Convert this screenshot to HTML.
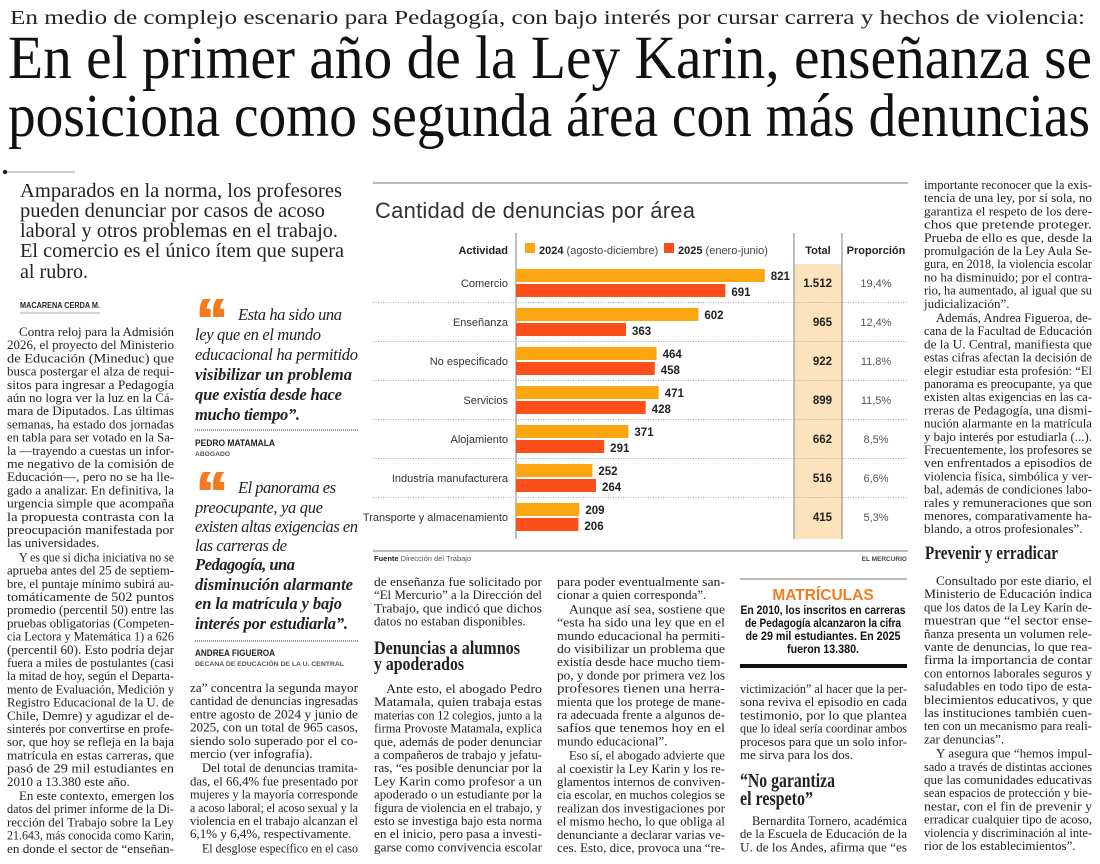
<!DOCTYPE html>
<html lang="es">
<head>
<meta charset="utf-8">
<title>En el primer año de la Ley Karin</title>
<style>
html,body{margin:0;padding:0;background:#fff;}
svg{display:block;}
.body{font-family:"Liberation Serif",serif;font-size:13px;fill:#222;}
.sans{font-family:"Liberation Sans",sans-serif;}
.serif{font-family:"Liberation Serif",serif;}
</style>
</head>
<body>
<svg id="page" xmlns="http://www.w3.org/2000/svg" width="1100" height="864" viewBox="0 0 1100 864">
<rect x="0" y="0" width="1100" height="864" fill="#fff"/>

<g>
<text class="serif" x="10" y="24" font-size="20" fill="#222" textLength="1075" lengthAdjust="spacingAndGlyphs">En medio de complejo escenario para Pedagogía, con bajo interés por cursar carrera y hechos de violencia:</text>
<text class="serif" x="8" y="78" font-size="61" fill="#111" textLength="1084" lengthAdjust="spacingAndGlyphs">En el primer año de la Ley Karin, enseñanza se</text>
<text class="serif" x="8" y="136" font-size="61" fill="#111" textLength="1082" lengthAdjust="spacingAndGlyphs">posiciona como segunda área con más denuncias</text>
</g>

<g>
<line x1="5" y1="172" x2="75" y2="172" stroke="#999" stroke-width="1"/>
<circle cx="5" cy="172" r="2.2" fill="#222"/>
<text class="serif" x="20" y="197" font-size="19.5" fill="#222" textLength="322" lengthAdjust="spacingAndGlyphs">Amparados en la norma, los profesores</text>
<text class="serif" x="20" y="217" font-size="19.5" fill="#222" textLength="305" lengthAdjust="spacingAndGlyphs">pueden denunciar por casos de acoso</text>
<text class="serif" x="20" y="237" font-size="19.5" fill="#222" textLength="318" lengthAdjust="spacingAndGlyphs">laboral y otros problemas en el trabajo.</text>
<text class="serif" x="20" y="257" font-size="19.5" fill="#222" textLength="324" lengthAdjust="spacingAndGlyphs">El comercio es el único ítem que supera</text>
<text class="serif" x="20" y="278" font-size="19.5" fill="#222" textLength="68" lengthAdjust="spacingAndGlyphs">al rubro.</text>
<text class="sans" x="20" y="308" font-size="8" font-weight="bold" fill="#222" textLength="80" lengthAdjust="spacingAndGlyphs">MACARENA CERDA M.</text>
<line x1="20" y1="313" x2="100" y2="313" stroke="#aaa" stroke-width="1"/>
</g>

<g>
<text class="sans" x="195" y="343" font-size="64" font-weight="bold" fill="#f47a20">“</text>
<text class="sans" x="197" y="343" font-size="64" font-weight="bold" fill="#f47a20">“</text>
<text class="serif" x="238" y="320" font-size="16.5" font-style="italic" fill="#222" textLength="104">Esta ha sido una</text>
<text class="serif" x="195" y="340" font-size="16.5" font-style="italic" fill="#222" textLength="126">ley que en el mundo</text>
<text class="serif" x="195" y="360" font-size="16.5" font-style="italic" fill="#222" textLength="163">educacional ha permitido</text>
<text class="serif" x="195" y="380" font-size="16.5" font-style="italic" font-weight="bold" fill="#222" textLength="157">visibilizar un problema</text>
<text class="serif" x="195" y="400" font-size="16.5" font-style="italic" font-weight="bold" fill="#222" textLength="147">que existía desde hace</text>
<text class="serif" x="195" y="420" font-size="16.5" font-style="italic" font-weight="bold" fill="#222" textLength="105">mucho tiempo”.</text>
<line x1="195" y1="430" x2="358" y2="430" stroke="#555" stroke-width="1.2" stroke-dasharray="1,1"/>
<text class="sans" x="195" y="446" font-size="9" font-weight="bold" fill="#222" textLength="80" lengthAdjust="spacingAndGlyphs">PEDRO MATAMALA</text>
<text class="sans" x="195" y="456" font-size="6.5" font-weight="bold" fill="#555" textLength="35" lengthAdjust="spacingAndGlyphs">ABOGADO</text>
</g>

<g>
<text class="sans" x="195" y="516" font-size="64" font-weight="bold" fill="#f47a20">“</text>
<text class="sans" x="197" y="516" font-size="64" font-weight="bold" fill="#f47a20">“</text>
<text class="serif" x="238" y="493" font-size="16.5" font-style="italic" fill="#222" textLength="98">El panorama es</text>
<text class="serif" x="195" y="513" font-size="16.5" font-style="italic" fill="#222" textLength="128">preocupante, ya que</text>
<text class="serif" x="195" y="532" font-size="16.5" font-style="italic" fill="#222" textLength="163">existen altas exigencias en</text>
<text class="serif" x="195" y="551" font-size="16.5" font-style="italic" fill="#222" textLength="92">las carreras de</text>
<text class="serif" x="195" y="570" font-size="16.5" font-style="italic" font-weight="bold" fill="#222" textLength="100">Pedagogía, una</text>
<text class="serif" x="195" y="590" font-size="16.5" font-style="italic" font-weight="bold" fill="#222" textLength="158">disminución alarmante</text>
<text class="serif" x="195" y="609" font-size="16.5" font-style="italic" font-weight="bold" fill="#222" textLength="147">en la matrícula y bajo</text>
<text class="serif" x="195" y="629" font-size="16.5" font-style="italic" font-weight="bold" fill="#222" textLength="153">interés por estudiarla”.</text>
<line x1="195" y1="641" x2="358" y2="641" stroke="#555" stroke-width="1.2" stroke-dasharray="1,1"/>
<text class="sans" x="195" y="656" font-size="9" font-weight="bold" fill="#222" textLength="80" lengthAdjust="spacingAndGlyphs">ANDREA FIGUEROA</text>
<text class="sans" x="195" y="666" font-size="6.5" font-weight="bold" fill="#555" textLength="149" lengthAdjust="spacingAndGlyphs">DECANA DE EDUCACIÓN DE LA U. CENTRAL</text>
</g>

<g>
<text class="serif" x="374" y="654" font-size="19" font-weight="bold" fill="#222" textLength="146" lengthAdjust="spacingAndGlyphs">Denuncias a alumnos</text>
<text class="serif" x="374" y="670" font-size="19" font-weight="bold" fill="#222" textLength="90" lengthAdjust="spacingAndGlyphs">y apoderados</text>
<text class="serif" x="740" y="787" font-size="20" font-weight="bold" fill="#222" textLength="95" lengthAdjust="spacingAndGlyphs">“No garantiza</text>
<text class="serif" x="740" y="805" font-size="20" font-weight="bold" fill="#222" textLength="73" lengthAdjust="spacingAndGlyphs">el respeto”</text>
<text class="serif" x="925" y="559" font-size="18.5" font-weight="bold" fill="#222" textLength="133" lengthAdjust="spacingAndGlyphs">Prevenir y erradicar</text>
</g>

<g>
<rect x="740" y="578" width="167" height="2" fill="#bbb"/>
<text class="sans" x="823" y="600" font-size="15.5" font-weight="bold" fill="#f47a20" text-anchor="middle">MATRÍCULAS</text>
<text class="sans" x="823" y="614" font-size="11.5" font-weight="bold" fill="#111" text-anchor="middle" textLength="165" lengthAdjust="spacingAndGlyphs">En 2010, los inscritos en carreras</text>
<text class="sans" x="823" y="627" font-size="11.5" font-weight="bold" fill="#111" text-anchor="middle" textLength="156" lengthAdjust="spacingAndGlyphs">de Pedagogía alcanzaron la cifra</text>
<text class="sans" x="823" y="640" font-size="11.5" font-weight="bold" fill="#111" text-anchor="middle" textLength="155" lengthAdjust="spacingAndGlyphs">de 29 mil estudiantes. En 2025</text>
<text class="sans" x="823" y="653" font-size="11.5" font-weight="bold" fill="#111" text-anchor="middle" textLength="72" lengthAdjust="spacingAndGlyphs">fueron 13.380.</text>
<rect x="740" y="664" width="167" height="4" fill="#111"/>
</g>

<g id="columns"></g>

<g id="chart">
<rect x="373" y="182" width="535" height="2" fill="#bbb"/>
<text class="sans" x="375" y="218" font-size="22" fill="#333" textLength="320">Cantidad de denuncias por área</text>
<rect x="794" y="264" width="48" height="275" fill="#fde2bd"/>
<line x1="516" y1="233" x2="516" y2="539" stroke="#aaa" stroke-width="1.5"/>
<line x1="794" y1="233" x2="794" y2="539" stroke="#aaa" stroke-width="1.5"/>
<line x1="842" y1="233" x2="842" y2="539" stroke="#aaa" stroke-width="1.5"/>
<text class="sans" x="508" y="254" font-size="11" font-weight="bold" fill="#222" text-anchor="end">Actividad</text>
<rect x="525" y="243" width="10" height="10" fill="#fca612"/>
<text class="sans" x="539" y="254" font-size="11" fill="#444"><tspan font-weight="bold" fill="#222">2024</tspan> (agosto-diciembre)</text>
<rect x="664" y="243" width="10" height="10" fill="#fc4f1a"/>
<text class="sans" x="678" y="254" font-size="11" fill="#444"><tspan font-weight="bold" fill="#222">2025</tspan> (enero-junio)</text>
<text class="sans" x="818" y="254" font-size="11" font-weight="bold" fill="#222" text-anchor="middle">Total</text>
<text class="sans" x="876" y="254" font-size="11" font-weight="bold" fill="#222" text-anchor="middle">Proporción</text>
<g id="chart-rows"></g>
<rect x="373" y="550" width="535" height="2" fill="#bbb"/>
<text class="sans" x="374" y="561" font-size="7.5" fill="#555"><tspan font-weight="bold" fill="#222">Fuente</tspan>  Dirección del Trabajo</text>
<text class="sans" x="907" y="561" font-size="6.5" font-weight="bold" fill="#444" text-anchor="end">EL MERCURIO</text>
</g>
</svg>

<script>
var categories = ["Comercio","Enseñanza","No especificado","Servicios","Alojamiento","Industria manufacturera","Transporte y almacenamiento"];
var values2024 = [821,602,464,471,371,252,209];
var values2025 = [691,363,458,428,291,264,206];
var totalLabels = ["1.512","965","922","899","662","516","415"];
var shareLabels = ["19,4%","12,4%","11,8%","11,5%","8,5%","6,6%","5,3%"];

var NS = "http://www.w3.org/2000/svg";
function xScale(v){ return 516 + v * 0.303; }
function rowTop(i){ return 269 + i * 39; }

var rows = document.getElementById("chart-rows");
function mk(tag, parent){ var e = document.createElementNS(NS, tag); parent.appendChild(e); return e; }

for (var i = 0; i < categories.length; i++) {
  var t = rowTop(i);
  if (i > 0) {
    var sep = mk("line", rows);
    
    
    sep.setAttribute("x1", 373); sep.setAttribute("x2", 908);
    sep.setAttribute("y1", t - 5.5); sep.setAttribute("y2", t - 5.5);
    sep.setAttribute("stroke", "#aaa"); sep.setAttribute("stroke-width", "1"); sep.setAttribute("stroke-dasharray", "1,1.5");
  }
  var lab = mk("text", rows);
  
  
  lab.setAttribute("x", 508); lab.setAttribute("y", t + 18);
  lab.setAttribute("text-anchor", "end"); lab.setAttribute("font-size", "11");
  lab.setAttribute("fill", "#333"); lab.setAttribute("class", "sans");
  lab.textContent = categories[i];

  var b1 = mk("rect", rows);
  
  
  b1.setAttribute("x", 516); b1.setAttribute("y", t);
  b1.setAttribute("width", xScale(values2024[i]) - 516); b1.setAttribute("height", 13);
  b1.setAttribute("fill", "#fca612");
  var v1 = mk("text", rows);
  
  
  v1.setAttribute("x", xScale(values2024[i]) + 6); v1.setAttribute("y", t + 11);
  v1.setAttribute("font-size", "11.5"); v1.setAttribute("font-weight", "bold"); v1.setAttribute("fill", "#222"); v1.setAttribute("class", "sans");
  v1.textContent = values2024[i];

  var b2 = mk("rect", rows);
  
  
  b2.setAttribute("x", 516); b2.setAttribute("y", t + 15);
  b2.setAttribute("width", xScale(values2025[i]) - 516); b2.setAttribute("height", 13);
  b2.setAttribute("fill", "#fc4f1a");
  var v2 = mk("text", rows);
  
  
  v2.setAttribute("x", xScale(values2025[i]) + 6); v2.setAttribute("y", t + 27);
  v2.setAttribute("font-size", "11.5"); v2.setAttribute("font-weight", "bold"); v2.setAttribute("fill", "#222"); v2.setAttribute("class", "sans");
  v2.textContent = values2025[i];

  var tt = mk("text", rows);
  
  
  tt.setAttribute("x", 832); tt.setAttribute("y", t + 18);
  tt.setAttribute("text-anchor", "end"); tt.setAttribute("font-size", "11.5"); tt.setAttribute("font-weight", "bold");
  tt.setAttribute("fill", "#222"); tt.setAttribute("class", "sans");
  tt.textContent = totalLabels[i];

  var sh = mk("text", rows);
  
  
  sh.setAttribute("x", 876); sh.setAttribute("y", t + 18);
  sh.setAttribute("text-anchor", "middle"); sh.setAttribute("font-size", "11");
  sh.setAttribute("fill", "#555"); sh.setAttribute("class", "sans");
  sh.textContent = shareLabels[i];
}

/* article body columns: "~" = paragraph start (indent), "|" = last line of paragraph */
var colA = ["~Contra reloj para la Admisión","2026, el proyecto del Ministerio","de Educación (Mineduc) que","busca postergar el alza de requi-","sitos para ingresar a Pedagogía","aún no logra ver la luz en la Cá-","mara de Diputados. Las últimas","semanas, ha estado dos jornadas","en tabla para ser votado en la Sa-","la —trayendo a cuestas un infor-","me negativo de la comisión de","Educación—, pero no se ha lle-","gado a analizar. En definitiva, la","urgencia simple que acompaña","la propuesta contrasta con la","preocupación manifestada por","las universidades.|","~Y es que si dicha iniciativa no se","aprueba antes del 25 de septiem-","bre, el puntaje mínimo subirá au-","tomáticamente de 502 puntos","promedio (percentil 50) entre las","pruebas obligatorias (Competen-","cia Lectora y Matemática 1) a 626","(percentil 60). Esto podría dejar","fuera a miles de postulantes (casi","la mitad de hoy, según el Departa-","mento de Evaluación, Medición y","Registro Educacional de la U. de","Chile, Demre) y agudizar el de-","sinterés por convertirse en profe-","sor, que hoy se refleja en la baja","matrícula en estas carreras, que","pasó de 29 mil estudiantes en","2010 a 13.380 este año.|","~En este contexto, emergen los","datos del primer informe de la Di-","rección del Trabajo sobre la Ley","21.643, más conocida como Karin,","en donde el sector de “enseñan-"];
var colB = ["za” concentra la segunda mayor","cantidad de denuncias ingresadas","entre agosto de 2024 y junio de","2025, con un total de 965 casos,","siendo solo superado por el co-","mercio (ver infografía).|","~Del total de denuncias tramita-","das, el 66,4% fue presentado por","mujeres y la mayoría corresponde","a acoso laboral; el acoso sexual y la","violencia en el trabajo alcanzan el","6,1% y 6,4%, respectivamente.|","~El desglose específico en el caso"];
var colC1 = ["de enseñanza fue solicitado por","“El Mercurio” a la Dirección del","Trabajo, que indicó que dichos","datos no estaban disponibles.|"];
var colC2 = ["~Ante esto, el abogado Pedro","Matamala, quien trabaja estas","materias con 12 colegios, junto a la","firma Provoste Matamala, explica","que, además de poder denunciar","a compañeros de trabajo y jefatu-","ras, “es posible denunciar por la","Ley Karin como profesor a un","apoderado o un estudiante por la","figura de violencia en el trabajo, y","esto se investiga bajo esta norma","en el inicio, pero pasa a investi-","garse como convivencia escolar"];
var colD = ["para poder eventualmente san-","cionar a quien corresponda”.|","~Aunque así sea, sostiene que","“esta ha sido una ley que en el","mundo educacional ha permiti-","do visibilizar un problema que","existía desde hace mucho tiem-","po, y donde por primera vez los","profesores tienen una herra-","mienta que los protege de mane-","ra adecuada frente a algunos de-","safíos que tenemos hoy en el","mundo educacional”.|","~Eso sí, el abogado advierte que","al coexistir la Ley Karin y los re-","glamentos internos de conviven-","cia escolar, en muchos colegios se","realizan dos investigaciones por","el mismo hecho, lo que obliga al","denunciante a declarar varias ve-","ces. Esto, dice, provoca una “re-"];
var colE1 = ["victimización” al hacer que la per-","sona reviva el episodio en cada","testimonio, por lo que plantea","que lo ideal sería coordinar ambos","procesos para que un solo infor-","me sirva para los dos.|"];
var colE2 = ["~Bernardita Tornero, académica","de la Escuela de Educación de la","U. de los Andes, afirma que “es"];
var colF1 = ["importante reconocer que la exis-","tencia de una ley, por sí sola, no","garantiza el respeto de los dere-","chos que pretende proteger.","Prueba de ello es que, desde la","promulgación de la Ley Aula Se-","gura, en 2018, la violencia escolar","no ha disminuido; por el contra-","rio, ha aumentado, al igual que su","judicialización”.|","~Además, Andrea Figueroa, de-","cana de la Facultad de Educación","de la U. Central, manifiesta que","estas cifras afectan la decisión de","elegir estudiar esta profesión: “El","panorama es preocupante, ya que","existen altas exigencias en las ca-","rreras de Pedagogía, una dismi-","nución alarmante en la matrícula","y bajo interés por estudiarla (...).","Frecuentemente, los profesores se","ven enfrentados a episodios de","violencia física, simbólica y ver-","bal, además de condiciones labo-","rales y remuneraciones que son","menores, comparativamente ha-","blando, a otros profesionales”.|"];
var colF2 = ["~Consultado por este diario, el","Ministerio de Educación indica","que los datos de la Ley Karin de-","muestran que “el sector ense-","ñanza presenta un volumen rele-","vante de denuncias, lo que rea-","firma la importancia de contar","con entornos laborales seguros y","saludables en todo tipo de esta-","blecimientos educativos, y que","las instituciones también cuen-","ten con un mecanismo para reali-","zar denuncias”.|","~Y asegura que “hemos impul-","sado a través de distintas acciones","que las comunidades educativas","sean espacios de protección y bie-","nestar, con el fin de prevenir y","erradicar cualquier tipo de acoso,","violencia y discriminación al inte-","rior de los establecimientos”.|"];

var colsG = document.getElementById("columns");
function layoutColumn(lines, x, w, y0, pitch) {
  var y = y0;
  for (var i = 0; i < lines.length; i++) {
    var s = lines[i];
    var indent = s.charAt(0) === "~";
    var last = s.charAt(s.length - 1) === "|";
    if (indent) { s = s.slice(1); if (i > 0) y += 1; }
    if (last) s = s.slice(0, -1);
    var el = document.createElementNS(NS, "text");
    
    
    el.setAttribute("class", "body");
    var lx = x + (indent ? 12 : 0);
    el.setAttribute("x", lx);
    el.setAttribute("y", y.toFixed(1));
    el.textContent = s;
    colsG.appendChild(el);
    var avail = x + w - lx;
    if (!last) {
      el.setAttribute("textLength", avail);
      el.setAttribute("lengthAdjust", "spacingAndGlyphs");
    } else {
      var nat = el.getComputedTextLength();
      if (nat > avail) {
        el.setAttribute("textLength", avail);
        el.setAttribute("lengthAdjust", "spacingAndGlyphs");
      }
    }
    y += pitch;
  }
}
layoutColumn(colA, 7, 167, 336, 13.2);
layoutColumn(colB, 190, 168, 692, 13.2);
layoutColumn(colC1, 374, 168, 586, 13.2);
layoutColumn(colC2, 374, 168, 693, 13.2);
layoutColumn(colD, 557, 168, 586, 13.2);
layoutColumn(colE1, 740, 167, 693, 13.2);
layoutColumn(colE2, 740, 167, 825, 13.2);
layoutColumn(colF1, 924, 168, 189, 13.2);
layoutColumn(colF2, 924, 168, 585, 13.2);
</script>
</body>
</html>
